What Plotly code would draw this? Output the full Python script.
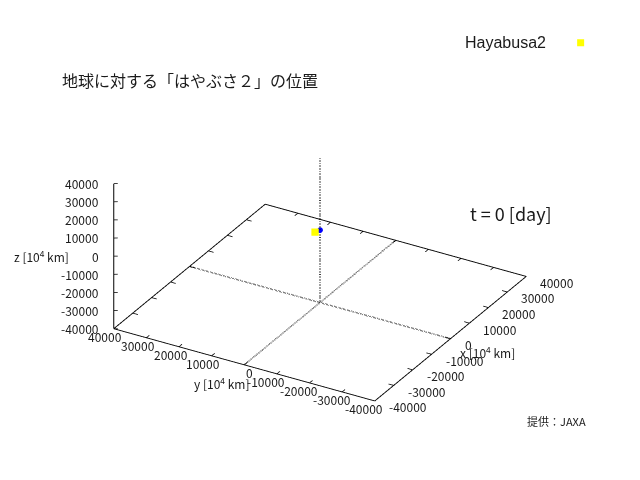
import numpy as np
import plotly.graph_objects as go

# ---- data ----
tick_vals = [-40000, -30000, -20000, -10000, 0, 10000, 20000, 30000, 40000]
tick_text = ["-40000", "-30000", "-20000", "-10000", "0", "10000", "20000", "30000", "40000"]
axis_min = -40000
axis_max = 40000
earth_x = [0]
earth_y = [0]
earth_z = [0]
hayabusa_x = [-1600]
hayabusa_y = [600]
hayabusa_z = [0]
series_name = "Hayabusa2"
title_text = "地球に対する「はやぶさ２」の位置"
time_text = "t = 0 [day]"
credit_text = "提供：JAXA"
x_title = "x [10<sup>4</sup> km]"
y_title = "y [10<sup>4</sup> km]"
z_title = "z [10<sup>4</sup> km]"

lo, hi = axis_min, axis_max
span = hi - lo
TXT = "#1a1a1a"
FONT = "Noto Sans CJK JP"

fig = go.Figure()

# base frame (z = lo) and z axis line at left corner
frame = dict(color="black", width=1.8)
fig.add_trace(go.Scatter3d(
    x=[lo, hi, hi, lo, lo], y=[lo, lo, hi, hi, lo], z=[lo, lo, lo, lo, lo],
    mode="lines", line=frame, showlegend=False, hoverinfo="skip"))
fig.add_trace(go.Scatter3d(
    x=[lo, lo], y=[hi, hi], z=[lo, hi],
    mode="lines", line=frame, showlegend=False, hoverinfo="skip"))

# tick marks (inward, mirrored on all base edges, plus z axis)
L = 0.02 * span
tx, ty, tz = [], [], []
def seg(p, q):
    tx.extend([p[0], q[0], None]); ty.extend([p[1], q[1], None]); tz.extend([p[2], q[2], None])
for v in tick_vals:
    seg((v, lo, lo), (v, lo + L, lo))
    seg((v, hi, lo), (v, hi - L, lo))
    seg((lo, v, lo), (lo + L, v, lo))
    seg((hi, v, lo), (hi - L, v, lo))
    seg((lo, hi, v), (lo + 0.0066 * span, hi - 0.0114 * span, v))
fig.add_trace(go.Scatter3d(x=tx, y=ty, z=tz, mode="lines", line=dict(color="black", width=1.5),
                           showlegend=False, hoverinfo="skip", connectgaps=False))

# dotted zero axes
dot = dict(color="black", width=3, dash="dot")
fig.add_trace(go.Scatter3d(x=[0, 0], y=[lo, hi], z=[lo, lo], mode="lines", line=dot,
                           showlegend=False, hoverinfo="skip"))
fig.add_trace(go.Scatter3d(x=[lo, hi], y=[0, 0], z=[lo, lo], mode="lines", line=dot,
                           showlegend=False, hoverinfo="skip"))
fig.add_trace(go.Scatter3d(x=[0, 0], y=[0, 0], z=[lo, hi], mode="lines", line=dot,
                           showlegend=False, hoverinfo="skip"))

# Hayabusa2
fig.add_trace(go.Scatter3d(
    x=hayabusa_x, y=hayabusa_y, z=hayabusa_z, mode="markers", name=series_name,
    marker=dict(symbol="square", size=3.8, color="#ffff00", line=dict(width=0)),
    showlegend=False, legendgroup="h"))
# legend entry for Hayabusa2 (no data of its own)
fig.add_trace(go.Scatter3d(
    x=[None], y=[None], z=[None], mode="markers", name=" ",
    marker=dict(symbol="square", size=7, color="#ffff00", line=dict(width=0)),
    showlegend=True, legendgroup="h", hoverinfo="skip"))
# Earth
fig.add_trace(go.Scatter3d(
    x=earth_x, y=earth_y, z=earth_z, mode="markers", name="Earth",
    marker=dict(symbol="circle", size=3.3, color="#0000ff", line=dict(width=0)),
    showlegend=False))

common = dict(range=[lo, hi], tickvals=tick_vals, showticklabels=False,
              showgrid=False, zeroline=False, showbackground=False, showline=False,
              showspikes=False, ticks="", title=dict(text=""))

# tick labels and axis titles as scene annotations anchored at the 3D tick positions
sa = []
tf = dict(family=FONT, size=12, color=TXT)
for v, t in zip(tick_vals, tick_text):
    sa.append(dict(x=lo, y=hi, z=v, text=t, showarrow=False, xanchor="right",
                   yanchor="middle", xshift=-13, font=tf))
    sa.append(dict(x=lo, y=v, z=lo, text=t, showarrow=False, xanchor="right",
                   yanchor="middle", xshift=10.5, yshift=-8, font=tf))
    sa.append(dict(x=v, y=lo, z=lo, text=t, showarrow=False, xanchor="left",
                   yanchor="middle", xshift=12, yshift=-6, font=tf))
sa.append(dict(x=lo, y=hi, z=0, text=z_title, showarrow=False, xanchor="right",
               yanchor="middle", xshift=-43, font=tf))
sa.append(dict(x=0, y=lo, z=lo, text=x_title, showarrow=False, xanchor="left",
               yanchor="middle", xshift=7, yshift=-13, font=tf))
sa.append(dict(x=lo, y=0, z=lo, text=y_title, showarrow=False, xanchor="right",
               yanchor="middle", xshift=7, yshift=-18, font=tf))

d = np.array([-0.760, -0.441, 0.477])
d = d / np.linalg.norm(d) * 1.5
S = 1.312

fig.update_layout(
    width=640, height=480,
    margin=dict(l=0, r=0, t=0, b=0),
    paper_bgcolor="white",
    showlegend=True,
    legend=dict(x=0.876, y=0.91, xanchor="left", yanchor="middle",
                bgcolor="rgba(0,0,0,0)", font=dict(size=14)),
    scene=dict(
        domain=dict(x=[0, 1], y=[0.0417, 1]),
        aspectmode="manual", aspectratio=dict(x=S, y=S, z=0.718),
        xaxis=common, yaxis=common, zaxis=common,
        camera=dict(eye=dict(x=d[0], y=d[1], z=d[2]), up=dict(x=0, y=0, z=1),
                    center=dict(x=0, y=0, z=0), projection=dict(type="orthographic")),
        bgcolor="white",
        annotations=sa,
    ),
)

W, H = 640, 480
def px(x): return x / W
def py(y): return 1 - y / H

fig.add_annotation(text=title_text, x=px(60), y=py(80), xref="paper", yref="paper",
                   xanchor="left", yanchor="middle", showarrow=False,
                   font=dict(family=FONT, size=16, color=TXT))
fig.add_annotation(text=series_name, x=px(463), y=py(42), xref="paper", yref="paper",
                   xanchor="left", yanchor="middle", showarrow=False,
                   font=dict(family="Liberation Sans", size=16, color=TXT))
fig.add_annotation(text=time_text, x=px(468), y=py(213), xref="paper", yref="paper",
                   xanchor="left", yanchor="middle", showarrow=False,
                   font=dict(family=FONT, size=18, color=TXT))
fig.add_annotation(text=credit_text, x=px(525), y=py(421), xref="paper", yref="paper",
                   xanchor="left", yanchor="middle", showarrow=False,
                   font=dict(family=FONT, size=11, color=TXT))

fig.write_html("out.html")
